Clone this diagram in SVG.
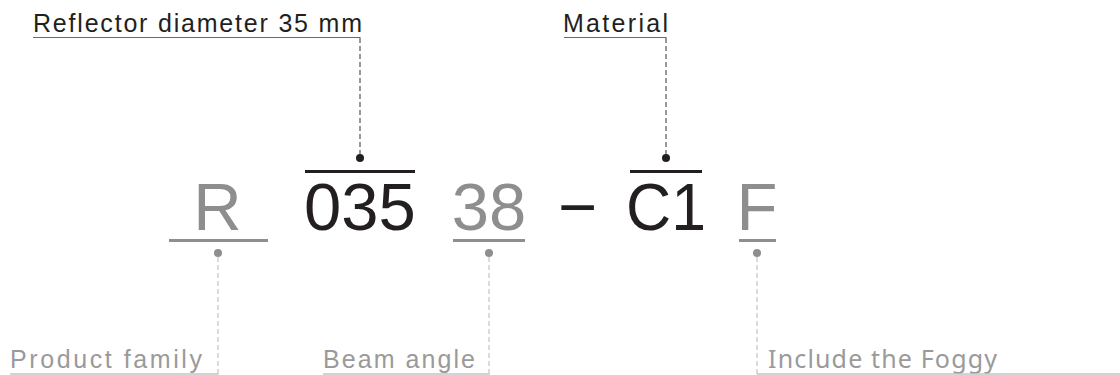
<svg xmlns="http://www.w3.org/2000/svg" width="1120" height="375" viewBox="0 0 1120 375">
<style>
.big{font-family:"Liberation Sans",Arial,sans-serif;font-size:67px;text-anchor:middle}
.dark{fill:#231f20}
.grey{fill:#8e8e8e}
.lbl{font-family:"Liberation Sans",Arial,sans-serif;font-size:25px}
.lblg{font-family:"Liberation Sans",Arial,sans-serif;font-size:25px;fill:#9a9a9a}
.foggy{font-family:"Noto Sans",sans-serif;font-size:25px;fill:#9a9a9a}
.dt{stroke:#555;stroke-width:1.2;stroke-dasharray:5,3;fill:none}
.db{stroke:#c4c4c4;stroke-width:1.2;stroke-dasharray:5,3;fill:none}
.ut{stroke:#6a6a6a;stroke-width:1.2}
.ub{stroke:#c4c4c4;stroke-width:1.5}
</style>
<rect width="1120" height="375" fill="#fff"/>
<g id="code">
  <g id="R"><text class="big grey" x="217.5" y="230">R</text><line x1="169" y1="240.5" x2="268" y2="240.5" stroke="#8e8e8e" stroke-width="3"/><circle cx="218" cy="253" r="4" fill="#8e8e8e"/></g>
  <g id="n035"><text class="big dark" x="360" y="230">035</text><line x1="305" y1="171.5" x2="415" y2="171.5" stroke="#231f20" stroke-width="3"/><circle cx="360" cy="158" r="4" fill="#231f20"/></g>
  <g id="n38"><text class="big grey" x="489" y="230">38</text><line x1="453" y1="240.5" x2="525" y2="240.5" stroke="#8e8e8e" stroke-width="3"/><circle cx="489" cy="253" r="4" fill="#8e8e8e"/></g>
  <g id="dash"><text class="big dark" x="577.5" y="230" font-size="60">−</text></g>
  <g id="C1"><text class="big dark" x="666" y="230" textLength="80" lengthAdjust="spacingAndGlyphs">C1</text><line x1="630" y1="171.5" x2="702" y2="171.5" stroke="#231f20" stroke-width="3"/><circle cx="666" cy="158" r="4" fill="#231f20"/></g>
  <g id="F"><text class="big grey" x="757" y="230">F</text><line x1="739" y1="240.5" x2="776" y2="240.5" stroke="#8e8e8e" stroke-width="3"/><circle cx="757" cy="253" r="4" fill="#8e8e8e"/></g>
</g>
<g id="labels">
  <g id="reflector"><text class="lbl dark" x="33" y="31.5" textLength="329" lengthAdjust="spacing">Reflector diameter 35 mm</text></g>
  <g id="material"><text class="lbl dark" x="563" y="31.5" textLength="105" lengthAdjust="spacing">Material</text></g>
  <g id="family"><text class="lblg" x="10" y="368" textLength="192" lengthAdjust="spacing">Product  family</text></g>
  <g id="beam"><text class="lblg" x="323" y="368" textLength="152" lengthAdjust="spacing">Beam angle</text></g>
  <g id="foggy"><text class="foggy" x="768" y="368" textLength="229" lengthAdjust="spacing">Include the Foggy</text></g>
</g>
<g id="connectors">
  <line class="ut" x1="33" y1="37.5" x2="360.5" y2="37.5"/>
  <line class="dt" x1="360" y1="38" x2="360" y2="154"/>
  <line class="ut" x1="564" y1="37.5" x2="666.5" y2="37.5"/>
  <line class="dt" x1="666" y1="38" x2="666" y2="154"/>
  <line class="db" x1="218" y1="257" x2="218" y2="374"/>
  <line class="ub" x1="10" y1="374" x2="218.5" y2="374"/>
  <line class="db" x1="489" y1="257" x2="489" y2="374"/>
  <line class="ub" x1="323" y1="374" x2="489.5" y2="374"/>
  <line class="db" x1="757" y1="257" x2="757" y2="374"/>
  <line class="ub" x1="757" y1="374" x2="1120" y2="374"/>
</g>
</svg>
